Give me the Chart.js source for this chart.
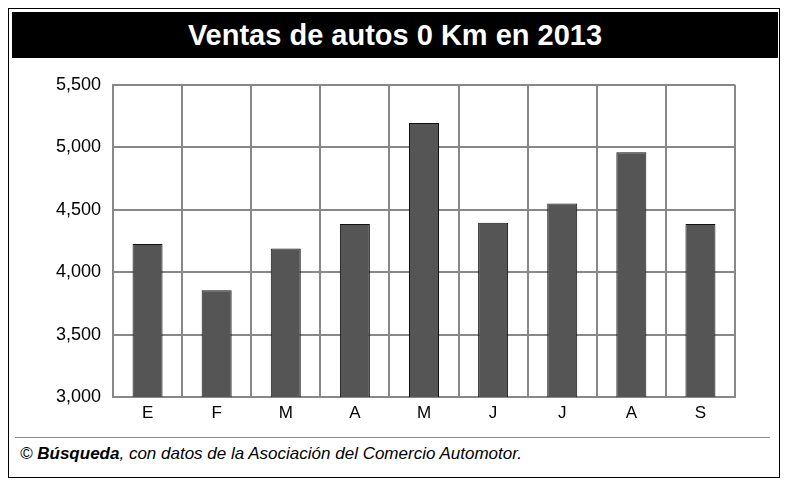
<!DOCTYPE html>
<html><head><meta charset="utf-8">
<script src="https://cdn.jsdelivr.net/npm/chart.js@4"></script>
<style>
body{margin:0;background:#fff;width:790px;height:488px;position:relative;font-family:"Liberation Sans",Arial,sans-serif;overflow:hidden}
#frame{position:absolute;left:8px;top:8px;width:772px;height:470px;border:1px solid #000;box-sizing:border-box}
#title{position:absolute;left:12px;top:12px;width:766px;height:46px;background:#000;color:#fff;font-weight:bold;font-size:29px;text-align:center;line-height:46px}
#wrap{position:absolute;left:20px;top:62px;width:740px;height:368px}
#sep{position:absolute;left:15px;top:437px;width:755px;height:1px;background:#888}
#foot{position:absolute;left:20px;top:444px;font-style:italic;font-size:17px;color:#000}
</style></head><body>
<div id="frame"></div>
<div id="title">Ventas de autos 0 Km en 2013</div>
<div id="wrap"><canvas id="c"></canvas></div>
<div id="sep"></div>
<div id="foot">© <b>Búsqueda</b>, con datos de la Asociación del Comercio Automotor.</div>
<script>
const categories=["E","F","M","A","M","J","J","A","S"];
const ventas=[4225,3855,4190,4385,5195,4395,4550,4960,4385];
const yTicks=[3000,3500,4000,4500,5000,5500];
new Chart(document.getElementById('c'),{type:'bar',
data:{labels:categories,datasets:[{data:ventas,backgroundColor:'#555',borderColor:'#111',borderWidth:1,barPercentage:0.62,categoryPercentage:0.7}]},
options:{responsive:true,maintainAspectRatio:false,animation:false,
layout:{padding:{top:18,right:25,left:0,bottom:0}},
plugins:{legend:{display:false},tooltip:{enabled:false}},
scales:{
x:{grid:{color:'#888',lineWidth:2,offset:true,drawTicks:false},border:{color:'#888',width:2},
ticks:{color:'#000',font:{family:'Liberation Sans',size:17},padding:6},
afterFit:s=>{s.height=33;}},
y:{min:3000,max:5500,grid:{color:'#888',lineWidth:2,drawTicks:false},border:{color:'#888',width:2},
afterBuildTicks:s=>{s.ticks=yTicks.map(v=>({value:v}));},
ticks:{color:'#000',font:{family:'Liberation Sans',size:18},padding:12},
afterFit:s=>{s.width=93;}}
}}});
</script></body></html>
